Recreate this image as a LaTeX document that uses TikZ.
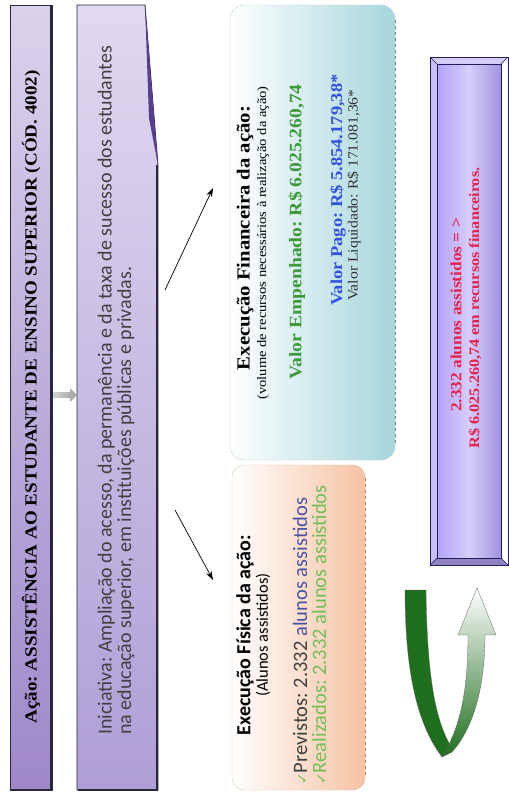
\documentclass[tikz,border=0pt]{standalone}
\usepackage{fontspec}
\setmainfont{Liberation Serif}[FakeStretch=1.12]
\newfontfamily\calfont{Carlito}
\newfontfamily\symfont{DejaVu Sans}
\usetikzlibrary{arrows.meta}
\frenchspacing
\definecolor{tline}{HTML}{2A2838}
\definecolor{ttop}{HTML}{DAD2EC}
\definecolor{tbot}{HTML}{9E88CA}
\definecolor{itop}{HTML}{E0D9F0}
\definecolor{ibot}{HTML}{AE9ED6}
\definecolor{fold}{HTML}{5A3C90}
\definecolor{fincol}{HTML}{A6D6DC}
\definecolor{finline}{HTML}{B8CCD2}
\definecolor{findash}{HTML}{5E8A92}
\definecolor{fiscol}{HTML}{F6C2A2}
\definecolor{fisline}{HTML}{E6C2A8}
\definecolor{fisdash}{HTML}{B07A5C}
\definecolor{empgreen}{HTML}{3C9A3A}
\definecolor{pagoblue}{HTML}{3452E0}
\definecolor{realgreen}{HTML}{72BE58}
\definecolor{prevblue}{HTML}{4A52A6}
\definecolor{totred}{HTML}{E8204C}
\definecolor{totline}{HTML}{1E1E5A}
\definecolor{totin}{HTML}{B4A2F6}
\definecolor{totmid}{HTML}{D6CEFA}
\definecolor{darkgreen}{HTML}{1F6E1E}

\begin{document}
\begin{tikzpicture}[x=1pt,y=-1pt,
		txt/.style={rotate=90,inner sep=0pt},
		arr/.style={-{Stealth[length=9pt,width=6pt]},line width=0.7pt},
		]
		\useasboundingbox (0,0) rectangle (509,796);
		
		\shade[top color=ttop,bottom color=tbot] (10,5) rectangle (52,790);
		\draw[tline,line width=0.8pt] (10,5) rectangle (52,790);
		\draw[tline,line width=2.5pt] (51,6) -- (51,790) -- (11,790);
		
		\shade[top color=itop,bottom color=ibot] (77,5) -- (145,5) -- (158,165) -- (158,790) -- (77,790) -- cycle;
		\draw[tline,line width=0.8pt] (77,5) -- (145,5) -- (158,165) -- (158,790) -- (77,790) -- cycle;
		\draw[tline,line width=2.5pt] (157,165) -- (157,790) -- (78,790);
		\fill[fold] (145,5) -- (158,165) -- (149,118) -- cycle;
		
		\shade[left color=gray!35,right color=gray!75] (53,392) -- (70,392) -- (70,388) -- (77,395) -- (70,402) -- (70,398) -- (53,398) -- cycle;
		
		\shade[left color=white,right color=fincol,rounded corners=14pt] (230,5) rectangle (395,460);
		\draw[finline,rounded corners=14pt] (230,5) rectangle (395,460);
		\draw[findash,dashed,line width=0.8pt] (395,20) -- (395,445);
		
		\shade[left color=white,right color=fiscol,rounded corners=12pt] (232,465) rectangle (365,790);
		\draw[fisline,rounded corners=12pt] (232,465) rectangle (365,790);
		\draw[fisdash,dashed,line width=0.8pt] (365,478) -- (365,777);
		
		\fill[totin!70!white] (430,57) -- (437,64) -- (437,558) -- (430,565) -- cycle;
		\fill[totin!55!white] (430,57) -- (508,57) -- (501,64) -- (437,64) -- cycle;
		\fill[totin!80!black] (430,565) -- (437,558) -- (501,558) -- (508,565) -- cycle;
		\shade[left color=totin,right color=totin!90!black,middle color=totmid] (437,64) rectangle (501,558);
		\draw[totline,line width=0.8pt] (430,57) rectangle (508,565);
		\draw[totline,line width=0.8pt] (437,64) rectangle (501,558);
		\draw[totline] (430,57) -- (437,64) (430,565) -- (437,558) (508,57) -- (501,64) (508,565) -- (501,558);
		
		\fill[darkgreen,draw=black!60,line width=0.3pt] (405,590) -- (426,590) .. controls (427,670) and (434,720) .. (452,748) -- (442,757) .. controls (418,725) and (405,675) .. (405,590) -- cycle;
		\shade[bottom color=darkgreen,top color=white,draw=black!60,line width=0.3pt] (442,757) .. controls (462,725) and (468,685) .. (468,635) -- (458,635) -- (477,588) -- (496,635) -- (485,635) .. controls (485,690) and (472,730) .. (452,752) -- cycle;
		
		\coordinate (a1) at (165,290);
		\coordinate (a2) at (213,188);
		\coordinate (b1) at (175,510);
		\coordinate (b2) at (213,580);
		\draw[arr] (a1) -- (a2);
		\draw[arr] (b1) -- (b2);
		
		\node[txt,font=\bfseries\fontsize{17}{20}\selectfont] (title) at (31,397) {Ação: ASSISTÊNCIA AO ESTUDANTE DE ENSINO SUPERIOR (CÓD. 4002)};
		\node[txt,anchor=west,align=left,font=\calfont\fontsize{20}{19.5}\selectfont,text=black!75] (ini) at (116,735) {Iniciativa: Ampliação do acesso, da permanência e da taxa de sucesso dos estudantes\\na educação superior, em instituições públicas e privadas.};
		
		\node[txt,font=\bfseries\fontsize{18.5}{20}\selectfont] (finhead) at (245,238) {Execução Financeira da ação:};
		\node[txt,font=\fontsize{13}{16}\selectfont] (finnote) at (263,243) {(volume de recursos necessários à realização da ação)};
		\node[txt,font=\bfseries\fontsize{17.5}{20}\selectfont,text=empgreen] (finemp) at (297,232) {Valor Empenhado: R\$ 6.025.260,74};
		\node[txt,font=\bfseries\fontsize{16.5}{19}\selectfont,text=pagoblue] (finpago) at (338,190) {Valor Pago: R\$ 5.854.179,38*};
		\node[txt,font=\fontsize{14}{16}\selectfont,text=black!80] (finliq) at (354,195) {Valor Liquidado: R\$ 171.081,36*};
		
		\node[txt,font=\calfont\bfseries\fontsize{20}{22}\selectfont] (fishead) at (245,635) {Execução Física da ação:};
		\node[txt,font=\calfont\fontsize{16.5}{18}\selectfont] (fisnote) at (263,635) {(Alunos assistidos)};
		\node[txt,anchor=west,font=\calfont\fontsize{20.5}{21}\selectfont,text=black!75] (fisprev) at (300,785) {{\symfont\color{realgreen}\fontsize{14}{16}\selectfont ✓}Previstos: 2.332 {\color{prevblue}alunos assistidos}};
		\node[txt,anchor=west,font=\calfont\fontsize{20.5}{21}\selectfont,text=realgreen] (fisreal) at (319,785) {{\symfont\fontsize{14}{16}\selectfont ✓}Realizados: 2.332 alunos assistidos};
		
		\node[txt,font=\bfseries\fontsize{15.5}{18}\selectfont,text=totred] (tot1) at (456,315) {2.332 alunos assistidos = >};
		\node[txt,font=\bfseries\fontsize{14.5}{17}\selectfont,text=totred] (tot2) at (475,308) {R\$ 6.025.260,74 em recursos financeiros.};
		\end{tikzpicture}
\end{document}
